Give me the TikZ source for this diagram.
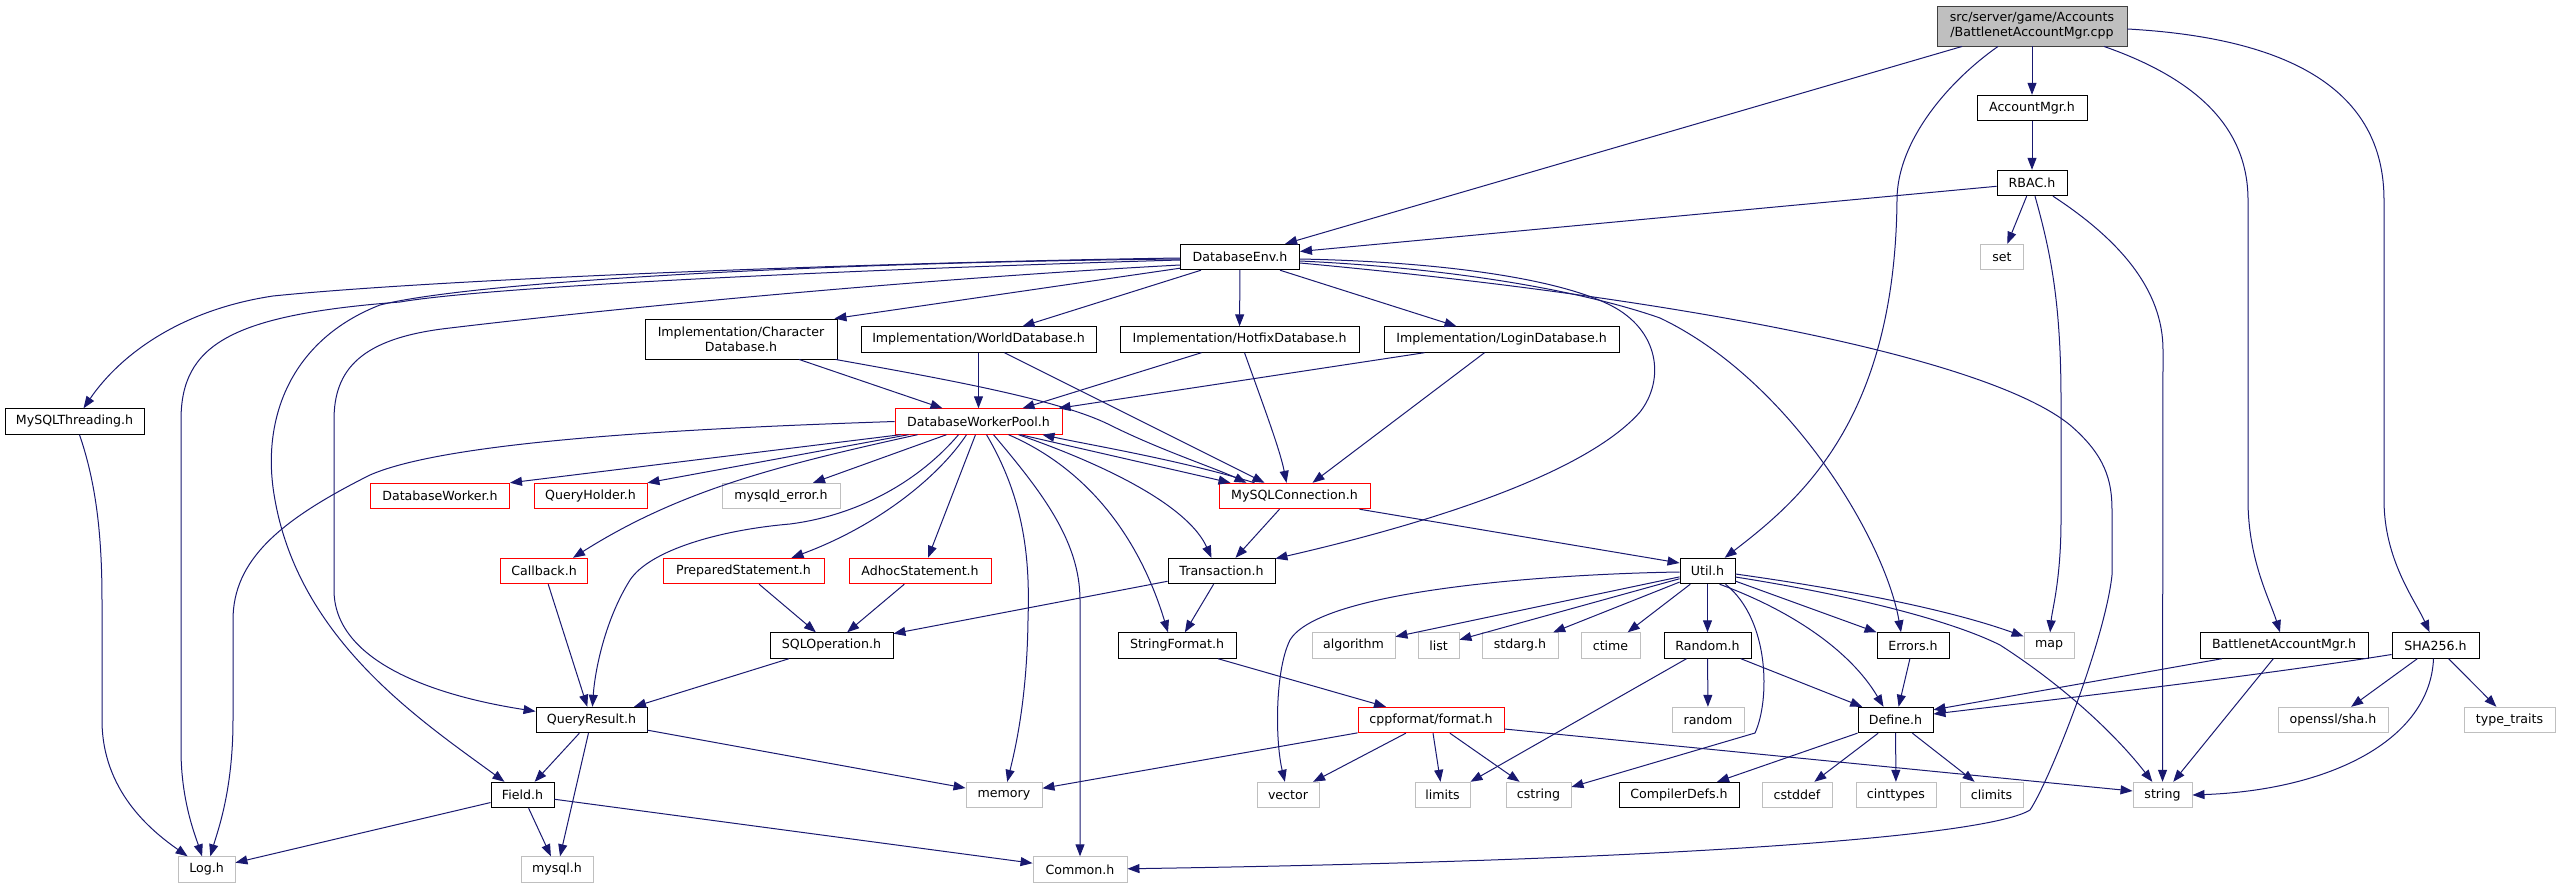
\documentclass[tikz,border=0pt]{standalone}
\usepackage{fontspec}
\setmainfont{DejaVu Sans}
\usetikzlibrary{arrows.meta}
\definecolor{edgeblue}{HTML}{191970}
\definecolor{extgray}{HTML}{BFBFBF}
\definecolor{rootborder}{HTML}{404040}
\tikzset{
  nb/.style={draw=black, line width=0.9pt, fill=white, inner sep=0pt, minimum height=25.5pt, align=center, font=\fontsize{12.6}{15}\selectfont},
  nred/.style={nb, draw=red},
  next/.style={nb, draw=extgray},
  nroot/.style={nb, fill=extgray, draw=rootborder, minimum height=40pt},
  ntwo/.style={nb, minimum height=40pt},
  edg/.style={draw=edgeblue, line width=1pt, -{Triangle[length=12pt,width=9pt]}}
}
\begin{document}
\begin{tikzpicture}[x=1pt,y=-1pt]
\useasboundingbox (0,0) rectangle (2560,888);
% nodes
\node[nroot, minimum width=190pt] (root) at (2032,26) {src/server/game/Accounts\\/BattlenetAccountMgr.cpp};
\node[nb, minimum width=110pt] (acc) at (2032,108) {AccountMgr.h};
\node[nb, minimum width=70pt] (rbac) at (2032,183) {RBAC.h};
\node[next, minimum width=43pt] (set) at (2002,257) {set};
\node[nb, minimum width=119pt] (dbenv) at (1240,257) {DatabaseEnv.h};
\node[nb, minimum width=139pt] (mythr) at (74.5,421.5) {MySQLThreading.h};
\node[ntwo, minimum width=192pt] (chardb) at (741,339) {Implementation/Character\\Database.h};
\node[nb, minimum width=235pt] (world) at (978.5,339.5) {Implementation/WorldDatabase.h};
\node[nb, minimum width=239pt] (hotfix) at (1239.5,339.5) {Implementation/HotfixDatabase.h};
\node[nb, minimum width=235pt] (login) at (1501.5,339.5) {Implementation/LoginDatabase.h};
\node[nred, minimum width=167pt] (dwp) at (978.5,421.5) {DatabaseWorkerPool.h};
\node[nred, minimum width=139pt] (dbworker) at (440,496) {DatabaseWorker.h};
\node[nred, minimum width=113pt] (qholder) at (590.5,496) {QueryHolder.h};
\node[next, minimum width=118pt] (mysqld) at (781,496) {mysqld\_error.h};
\node[nred, minimum width=151pt] (mysqlc) at (1294.5,496) {MySQLConnection.h};
\node[nred, minimum width=87pt] (callback) at (544,571) {Callback.h};
\node[nred, minimum width=161pt] (prep) at (743.5,571) {PreparedStatement.h};
\node[nred, minimum width=142pt] (adhoc) at (920,571) {AdhocStatement.h};
\node[nb, minimum width=107pt] (trans) at (1221.5,571) {Transaction.h};
\node[nb, minimum width=55pt] (util) at (1707.5,571) {Util.h};
\node[nb, minimum width=123pt] (sqlop) at (831.5,645.5) {SQLOperation.h};
\node[nb, minimum width=118pt] (strfmt) at (1177,645.5) {StringFormat.h};
\node[next, minimum width=83pt] (algo) at (1353.5,645.5) {algorithm};
\node[next, minimum width=41pt] (list) at (1438.5,645.5) {list};
\node[next, minimum width=76pt] (stdarg) at (1520,645.5) {stdarg.h};
\node[next, minimum width=59pt] (ctime) at (1610.5,645.5) {ctime};
\node[nb, minimum width=87pt] (randomh) at (1707.5,645.5) {Random.h};
\node[nb, minimum width=72pt] (errors) at (1913,645.5) {Errors.h};
\node[next, minimum width=50pt] (map) at (2049,645.5) {map};
\node[nb, minimum width=168pt] (bnet) at (2284,645.5) {BattlenetAccountMgr.h};
\node[nb, minimum width=87pt] (sha) at (2435.5,645.5) {SHA256.h};
\node[nb, minimum width=111pt] (qres) at (591.5,720) {QueryResult.h};
\node[nred, minimum width=146pt] (cppfmt) at (1431,720) {cppformat/format.h};
\node[next, minimum width=72pt] (random) at (1708,720) {random};
\node[nb, minimum width=75pt] (define) at (1895.5,720) {Define.h};
\node[next, minimum width=110pt] (openssl) at (2333,720) {openssl/sha.h};
\node[next, minimum width=91pt] (typetraits) at (2509.5,720) {type\_traits};
\node[nb, minimum width=63pt] (field) at (522.5,795) {Field.h};
\node[next, minimum width=76pt] (memory) at (1004,795) {memory};
\node[next, minimum width=62pt] (vector) at (1288,795) {vector};
\node[next, minimum width=55pt] (limits) at (1442.5,795) {limits};
\node[next, minimum width=65pt] (cstring) at (1538.5,795) {cstring};
\node[nb, minimum width=120pt] (compdefs) at (1679,795) {CompilerDefs.h};
\node[next, minimum width=70pt] (cstddef) at (1797,795) {cstddef};
\node[next, minimum width=80pt] (cinttypes) at (1896,795) {cinttypes};
\node[next, minimum width=63pt] (climits) at (1991.5,795) {climits};
\node[next, minimum width=59pt] (string) at (2162.5,795) {string};
\node[next, minimum width=57pt] (log) at (206.5,869.5) {Log.h};
\node[next, minimum width=72pt] (mysql) at (557,869.5) {mysql.h};
\node[next, minimum width=94pt] (common) at (1080,869.5) {Common.h};
% root edges
\draw[edg] (root) -- (dbenv);
\draw[edg] (root) -- (acc);
\draw[edg] (acc) -- (rbac);
\draw[edg] ([xshift=-34pt]root.south) .. controls (1950,80) and (1897,140) .. (1897,200) .. controls (1895,420) and (1800,500) .. (util);
\draw[edg] ([xshift=72pt]root.south) .. controls (2200,80) and (2248,130) .. (2248,200) -- (2248,500) .. controls (2248,560) and (2270,600) .. (bnet);
\draw[edg] ([yshift=-3pt]root.east) .. controls (2290,38) and (2384,90) .. (2384,200) -- (2384,500) .. controls (2384,560) and (2415,600) .. (sha);
% RBAC
\draw[edg] (rbac) -- (set);
\draw[edg] (rbac) -- (dbenv);
\draw[edg] ([xshift=3pt]rbac.south) .. controls (2050,250) and (2061,300) .. (2061,400) -- (2061,520) .. controls (2061,580) and (2052,610) .. (map);
\draw[edg] ([xshift=21pt]rbac.south) .. controls (2120,240) and (2163,290) .. (2163,350) -- (string);
% DatabaseEnv
\draw[edg] ([yshift=-1pt]dbenv.west) .. controls (900,262) and (450,278) .. (273,296) .. controls (180,310) and (120,355) .. (mythr);
\draw[edg] ([yshift=-3pt]dbenv.west) .. controls (900,268) and (500,285) .. (400,302) .. controls (230,315) and (181,345) .. (181,420) -- (181,750) .. controls (181,800) and (195,835) .. (log);
\draw[edg] ([yshift=-2pt]dbenv.west) .. controls (850,262) and (480,280) .. (380,305) .. controls (290,340) and (260,420) .. (275,500) .. controls (300,640) and (420,720) .. (field);
\draw[edg] ([yshift=-8pt]dbenv.west) .. controls (900,280) and (600,310) .. (450,328) .. controls (360,338) and (334,370) .. (334,420) -- (334,590) .. controls (334,660) and (430,695) .. (qres);
\draw[edg] ([yshift=2pt]dbenv.south west) -- ([xshift=-3pt]chardb.north east);
\draw[edg] ([xshift=-39pt]dbenv.south) -- ([xshift=44pt]world.north);
\draw[edg] (dbenv) -- (hotfix);
\draw[edg] ([xshift=40pt]dbenv.south) -- ([xshift=-45pt]login.north);
\draw[edg] ([yshift=-2pt]dbenv.east) .. controls (1450,262) and (1560,280) .. (1610,305) .. controls (1660,330) and (1665,380) .. (1640,412) .. controls (1580,480) and (1400,530) .. (trans);
\draw[edg] ([yshift=-4pt]dbenv.east) .. controls (1450,268) and (1580,290) .. (1660,318) .. controls (1790,380) and (1885,540) .. ([xshift=-12pt]errors.north);
\draw[edg] ([yshift=-6pt]dbenv.east) .. controls (1700,300) and (1990,360) .. (2070,425) .. controls (2105,455) and (2112,480) .. (2112,510) -- (2112,575) .. controls (2105,640) and (2050,780) .. (2030,810) .. controls (1990,835) and (1700,860) .. (common);
% Implementation headers
\draw[edg] ([xshift=58pt]chardb.south) -- ([xshift=-36pt]dwp.north);
\draw[edg] ([xshift=-2pt]chardb.south east) .. controls (950,380) and (1060,400) .. (1110,425) .. controls (1160,450) and (1215,468) .. ([xshift=-48pt]mysqlc.north);
\draw[edg] (world) -- (dwp);
\draw[edg] ([xshift=26pt]world.south) -- ([xshift=-30pt]mysqlc.north);
\draw[edg] ([xshift=-38pt]hotfix.south) -- ([xshift=44pt]dwp.north);
\draw[edg] ([xshift=5pt]hotfix.south) .. controls (1265,410) and (1280,450) .. ([xshift=-8pt]mysqlc.north);
\draw[edg] ([xshift=-77pt]login.south) -- ([xshift=80pt]dwp.north);
\draw[edg] ([xshift=-17pt]login.south) -- ([xshift=18pt]mysqlc.north);
% DatabaseWorkerPool
\draw[edg] (dwp.west) .. controls (700,428) and (450,440) .. (370,475) .. controls (280,520) and (233,560) .. (233,620) -- (233,720) .. controls (233,790) and (218,830) .. (log);
\draw[edg] ([xshift=6pt]dwp.south west) -- (dbworker.north east);
\draw[edg] ([xshift=14pt]dwp.south west) -- (qholder.north east);
\draw[edg] ([xshift=23pt]dwp.south west) .. controls (780,465) and (680,490) .. ([xshift=29pt]callback.north);
\draw[edg] ([xshift=-32pt]dwp.south) -- ([xshift=32pt]mysqld.north);
\draw[edg] ([xshift=-20pt]dwp.south) .. controls (920,480) and (860,515) .. (790,524) .. controls (720,530) and (650,550) .. (630,580) .. controls (605,620) and (595,670) .. (qres);
\draw[edg] ([xshift=-12pt]dwp.south) .. controls (940,475) and (880,525) .. ([xshift=48pt]prep.north);
\draw[edg] ([xshift=-3pt]dwp.south) -- ([xshift=8pt]adhoc.north);
\draw[edg] ([xshift=8pt]dwp.south) .. controls (1025,500) and (1030,560) .. (1028,620) .. controls (1027,700) and (1015,750) .. (memory);
\draw[edg] ([xshift=15pt]dwp.south) .. controls (1040,490) and (1080,540) .. (1080,600) -- (common);
\draw[edg] ([xshift=30pt]dwp.south) .. controls (1090,470) and (1140,540) .. ([xshift=-9pt]strfmt.north);
\draw[edg] ([xshift=40pt]dwp.south) .. controls (1120,470) and (1190,510) .. ([xshift=-10pt]trans.north);
\draw[edg] ([xshift=-42pt]dwp.south east) -- ([xshift=-64pt]mysqlc.north);
\draw[edg] ([xshift=-40pt]mysqlc.north) .. controls (1180,460) and (1090,445) .. ([xshift=-20pt]dwp.south east);
% MySQLConnection
\draw[edg] ([xshift=-15pt]mysqlc.south) -- ([xshift=14pt]trans.north);
\draw[edg] ([xshift=65pt]mysqlc.south) -- ([yshift=8pt]util.west);
% middle
\draw[edg] (callback) -- (qres);
\draw[edg] (prep) -- (sqlop);
\draw[edg] (adhoc) -- (sqlop);
\draw[edg] (trans) -- (sqlop);
\draw[edg] (trans) -- (strfmt);
\draw[edg] (sqlop) -- (qres);
\draw[edg] (qres) -- (field);
\draw[edg] (qres) -- (mysql);
\draw[edg] (qres) -- (memory);
\draw[edg] (field) -- (log);
\draw[edg] (field) -- (mysql);
\draw[edg] (field) -- (common);
\draw[edg] ([xshift=5pt]mythr.south) .. controls (95,480) and (102,530) .. (102,600) -- (102,720) .. controls (102,790) and (150,830) .. (log);
\draw[edg] ([xshift=41pt]strfmt.south) -- ([xshift=-45pt]cppfmt.north);
% Util
\draw[edg] (util) -- (algo);
\draw[edg] (util) -- (list);
\draw[edg] (util) -- (stdarg);
\draw[edg] (util) -- (ctime);
\draw[edg] (util) -- (randomh);
\draw[edg] (util) -- (errors);
\draw[edg] ([xshift=12pt]util.south) .. controls (1790,610) and (1850,650) .. ([xshift=-12pt]define.north);
\draw[edg] ([xshift=18pt]util.south) .. controls (1770,620) and (1770,700) .. (1755,733) -- ([yshift=8pt]cstring.east);
\draw[edg] ([yshift=-3pt]util.east) .. controls (1850,590) and (1950,610) .. (map);
\draw[edg] ([yshift=-6pt]util.east) .. controls (1850,595) and (1950,620) .. (2000,645) .. controls (2070,690) and (2120,740) .. (string);
\draw[edg] ([yshift=-1pt]util.west) .. controls (1550,574) and (1320,590) .. (1290,640) .. controls (1275,670) and (1275,740) .. (vector);
% Random, Errors, Define
\draw[edg] ([xshift=-21pt]randomh.south) -- (limits.north east);
\draw[edg] (randomh) -- (random);
\draw[edg] (randomh) -- (define);
\draw[edg] (errors) -- (define);
\draw[edg] (define) -- (compdefs);
\draw[edg] (define) -- (cstddef);
\draw[edg] (define) -- (cinttypes);
\draw[edg] (define) -- (climits);
% cppformat
\draw[edg] (cppfmt) -- (memory);
\draw[edg] (cppfmt) -- (vector);
\draw[edg] (cppfmt) -- (limits);
\draw[edg] (cppfmt) -- (cstring);
\draw[edg] ([yshift=-9pt]cppfmt.east) -- ([yshift=4pt]string.west);
% Battlenet, SHA256
\draw[edg] ([xshift=-62pt]bnet.south) -- ([yshift=-3pt]define.north east);
\draw[edg] (bnet) -- (string);
\draw[edg] ([yshift=-9pt]sha.west) .. controls (2250,677) and (2050,700) .. ([yshift=6pt]define.east);
\draw[edg] (sha) -- (openssl);
\draw[edg] (sha) -- (typetraits);
\draw[edg] ([xshift=-2pt]sha.south) .. controls (2430,740) and (2330,790) .. (string.east);
\end{tikzpicture}
\end{document}
